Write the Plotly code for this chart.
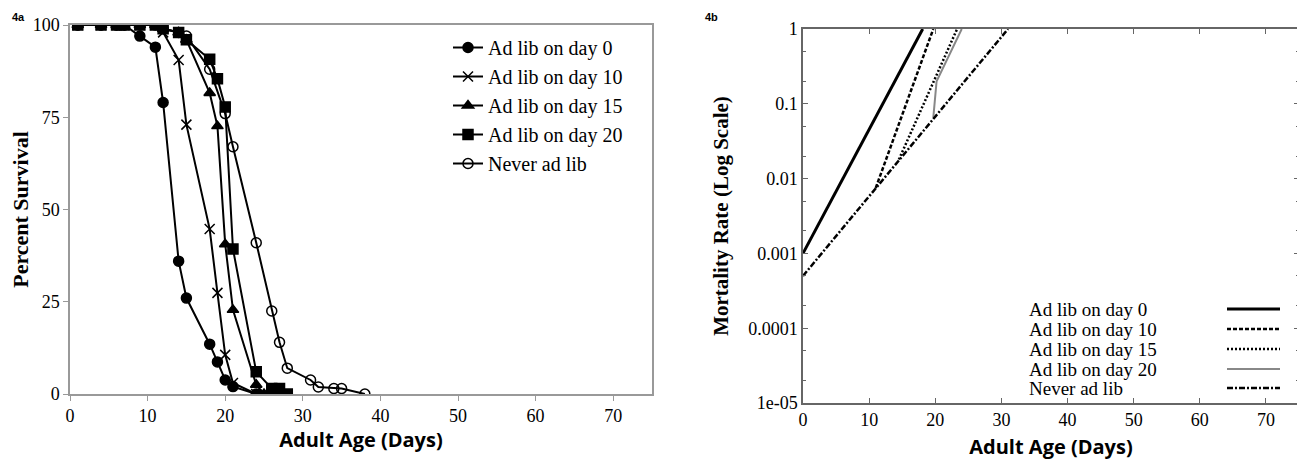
import plotly.graph_objects as go

# ---------- Panel 4a: percent survival ----------
day0_x = [1, 4, 6, 7, 9, 11, 12, 14, 15, 18, 19, 20, 21, 24]
day0_y = [100, 100, 100, 100, 97, 94, 79, 36, 26, 13.5, 8.7, 3.8, 2, 0]

day10_x = [1, 4, 6, 7, 9, 11, 12, 14, 15, 18, 19, 20, 21, 24]
day10_y = [100, 100, 100, 100, 100, 100, 98, 90.5, 73, 44.7, 27.4, 10.6, 3, 0]

day15_x = [1, 4, 6, 7, 9, 11, 12, 14, 15, 18, 19, 20, 21, 24, 25]
day15_y = [100, 100, 100, 100, 100, 100, 99, 98, 96, 81.6, 72.6, 40.6, 22.8, 2.5, 0]

day20_x = [1, 4, 6, 7, 9, 11, 12, 14, 15, 18, 19, 20, 21, 24, 26, 27, 28]
day20_y = [100, 100, 100, 100, 100, 100, 99, 98, 96, 90.7, 85.4, 77.8, 39.3, 6, 1.5, 1.5, 0]

never_x = [1, 4, 6, 7, 9, 11, 12, 14, 15, 18, 20, 21, 24, 26, 27, 28, 31, 32, 34, 35, 38]
never_y = [100, 100, 100, 100, 100, 100, 99, 98, 97, 88, 76, 67, 41, 22.5, 14, 7, 3.8, 1.9, 1.5, 1.5, 0]

series_names = ["Ad lib on day 0", "Ad lib on day 10", "Ad lib on day 15",
                "Ad lib on day 20", "Never ad lib"]

# ---------- Panel 4b: mortality rate (log) ----------
mort0_x = [0, 18.1]
mort0_y = [0.001, 1]
mort10_x = [11, 19.7]
mort10_y = [0.0075, 1]
mort15_x = [14.5, 23.3]
mort15_y = [0.018, 1]
mort20_x = [19.7, 20.2, 24]
mort20_y = [0.065, 0.2, 1]
mortnever_x = [0, 31]
mortnever_y = [0.0005, 1]

xticks = [0, 10, 20, 30, 40, 50, 60, 70]
yticks_a = [0, 25, 50, 75, 100]
yticks_b = [1e-5, 1e-4, 1e-3, 1e-2, 1e-1, 1]
yticks_b_text = ["1e-05", "0.0001", "0.001", "0.01", "0.1", "1"]

SERIF = "Liberation Serif"
SANS = "Open Sans"
fig = go.Figure()

left_specs = [
    (day0_x, day0_y, "circle"),
    (day10_x, day10_y, "x-thin-open"),
    (day15_x, day15_y, "triangle-up"),
    (day20_x, day20_y, "square"),
    (never_x, never_y, "circle-open"),
]
for (xs, ys, sym), name in zip(left_specs, series_names):
    fig.add_trace(go.Scatter(
        x=xs, y=ys, mode="lines+markers", name=name,
        line=dict(color="black", width=2),
        marker=dict(symbol=sym, size=10, color="black",
                    line=dict(color="black", width=1.5)),
        xaxis="x", yaxis="y", legend="legend"))

right_specs = [
    (mort0_x, mort0_y, "solid", 3, "black"),
    (mort10_x, mort10_y, "4px,2px", 2.5, "black"),
    (mort15_x, mort15_y, "2px,2px", 2.5, "black"),
    (mort20_x, mort20_y, "solid", 2, "#888888"),
    (mortnever_x, mortnever_y, "6px,2px,2px,2px", 2.5, "black"),
]
for (xs, ys, dash, w, col), name in zip(right_specs, series_names):
    fig.add_trace(go.Scatter(
        x=xs, y=ys, mode="lines", name=name, showlegend=False,
        line=dict(color=col, width=w, dash=dash),
        xaxis="x2", yaxis="y2"))

# page body has an 8px margin: convert screen pixels to figure fractions
OFF = 8
W, H = 1305 - OFF, 460 - OFF
def px_x(p): return (p - OFF) / W
def px_y(p): return 1 - (p - OFF) / H

axis_grey = "#999999"
dark = "#666666"
fig.update_layout(
    width=W, height=H,
    margin=dict(l=0, r=0, t=0, b=0),
    plot_bgcolor="white", paper_bgcolor="white",
    xaxis=dict(domain=[px_x(70), px_x(652)], range=[0, 75],
               tickvals=xticks, showgrid=False, zeroline=False,
               showline=True, linecolor=axis_grey, linewidth=1.5, mirror=True,
               ticks="outside", ticklen=5, tickcolor=axis_grey,
               tickfont=dict(family=SERIF, size=18, color="black"),
               title=dict(text="<b>Adult Age (Days)</b>", standoff=3,
                          font=dict(family=SANS, size=20, color="black")),
               anchor="y", automargin=False),
    yaxis=dict(domain=[px_y(394), px_y(25)], range=[0, 100],
               tickvals=yticks_a, showgrid=False, zeroline=False,
               showline=True, linecolor=axis_grey, linewidth=1.5, mirror=True,
               ticks="outside", ticklen=5, tickcolor=axis_grey,
               tickfont=dict(family=SERIF, size=18, color="black"),
               title=dict(text="<b>Percent Survival</b>", standoff=3,
                          font=dict(family=SERIF, size=22, color="black")),
               anchor="x", automargin=False),
    xaxis2=dict(domain=[px_x(803), px_x(1299)], range=[0, 75],
                tickvals=xticks, showgrid=False, zeroline=False,
                showline=True, linecolor=dark, linewidth=1.5, mirror="ticks",
                ticks="inside", ticklen=5, tickcolor=dark,
                tickfont=dict(family=SERIF, size=18, color="black"),
                title=dict(text="<b>Adult Age (Days)</b>", standoff=12,
                           font=dict(family=SANS, size=20, color="black")),
                anchor="y2", automargin=False),
    yaxis2=dict(domain=[px_y(403), px_y(29)], type="log", range=[-5, 0],
                tickvals=yticks_b, ticktext=yticks_b_text,
                showgrid=False, zeroline=False,
                showline=True, linecolor=dark, linewidth=1.5, mirror="ticks",
                ticks="inside", ticklen=5, tickcolor=dark,
                minor=dict(ticks="inside", ticklen=3, tickcolor=dark,
                           tickvals=[2e-5, 5e-5, 2e-4, 5e-4, 2e-3, 5e-3,
                                     2e-2, 5e-2, 2e-1, 5e-1]),
                tickfont=dict(family=SERIF, size=18, color="black"),
                title=dict(text="<b>Mortality Rate (Log Scale)</b>", standoff=14,
                           font=dict(family=SERIF, size=21, color="black")),
                anchor="x2", automargin=False),
    legend=dict(x=px_x(448), y=px_y(28), xanchor="left", yanchor="top",
                bgcolor="rgba(0,0,0,0)", borderwidth=0,
                font=dict(family=SERIF, size=20, color="black"),
                tracegroupgap=0, itemwidth=30),
    showlegend=True,
)

# Right-panel key: text on the left, line samples on the right
key_rows = [309, 329, 349, 369, 388]
for (xs, ys, dash, w, col), name, ry in zip(right_specs, series_names, key_rows):
    fig.add_annotation(x=px_x(1027), y=px_y(ry), xref="paper", yref="paper",
                       text=name, showarrow=False, xanchor="left", yanchor="middle",
                       font=dict(family=SERIF, size=19, color="black"))
    fig.add_shape(type="line", xref="paper", yref="paper",
                  x0=px_x(1227), x1=px_x(1280), y0=px_y(ry), y1=px_y(ry),
                  line=dict(color=col, width=w, dash=dash))

# Panel labels
fig.add_annotation(x=px_x(10), y=px_y(17), xref="paper", yref="paper",
                   text="<b>4a</b>", showarrow=False, xanchor="left", yanchor="middle",
                   font=dict(family="Liberation Sans", size=11, color="black"))
fig.add_annotation(x=px_x(703), y=px_y(17), xref="paper", yref="paper",
                   text="<b>4b</b>", showarrow=False, xanchor="left", yanchor="middle",
                   font=dict(family="Liberation Sans", size=11, color="black"))

fig.write_html("out.html")
